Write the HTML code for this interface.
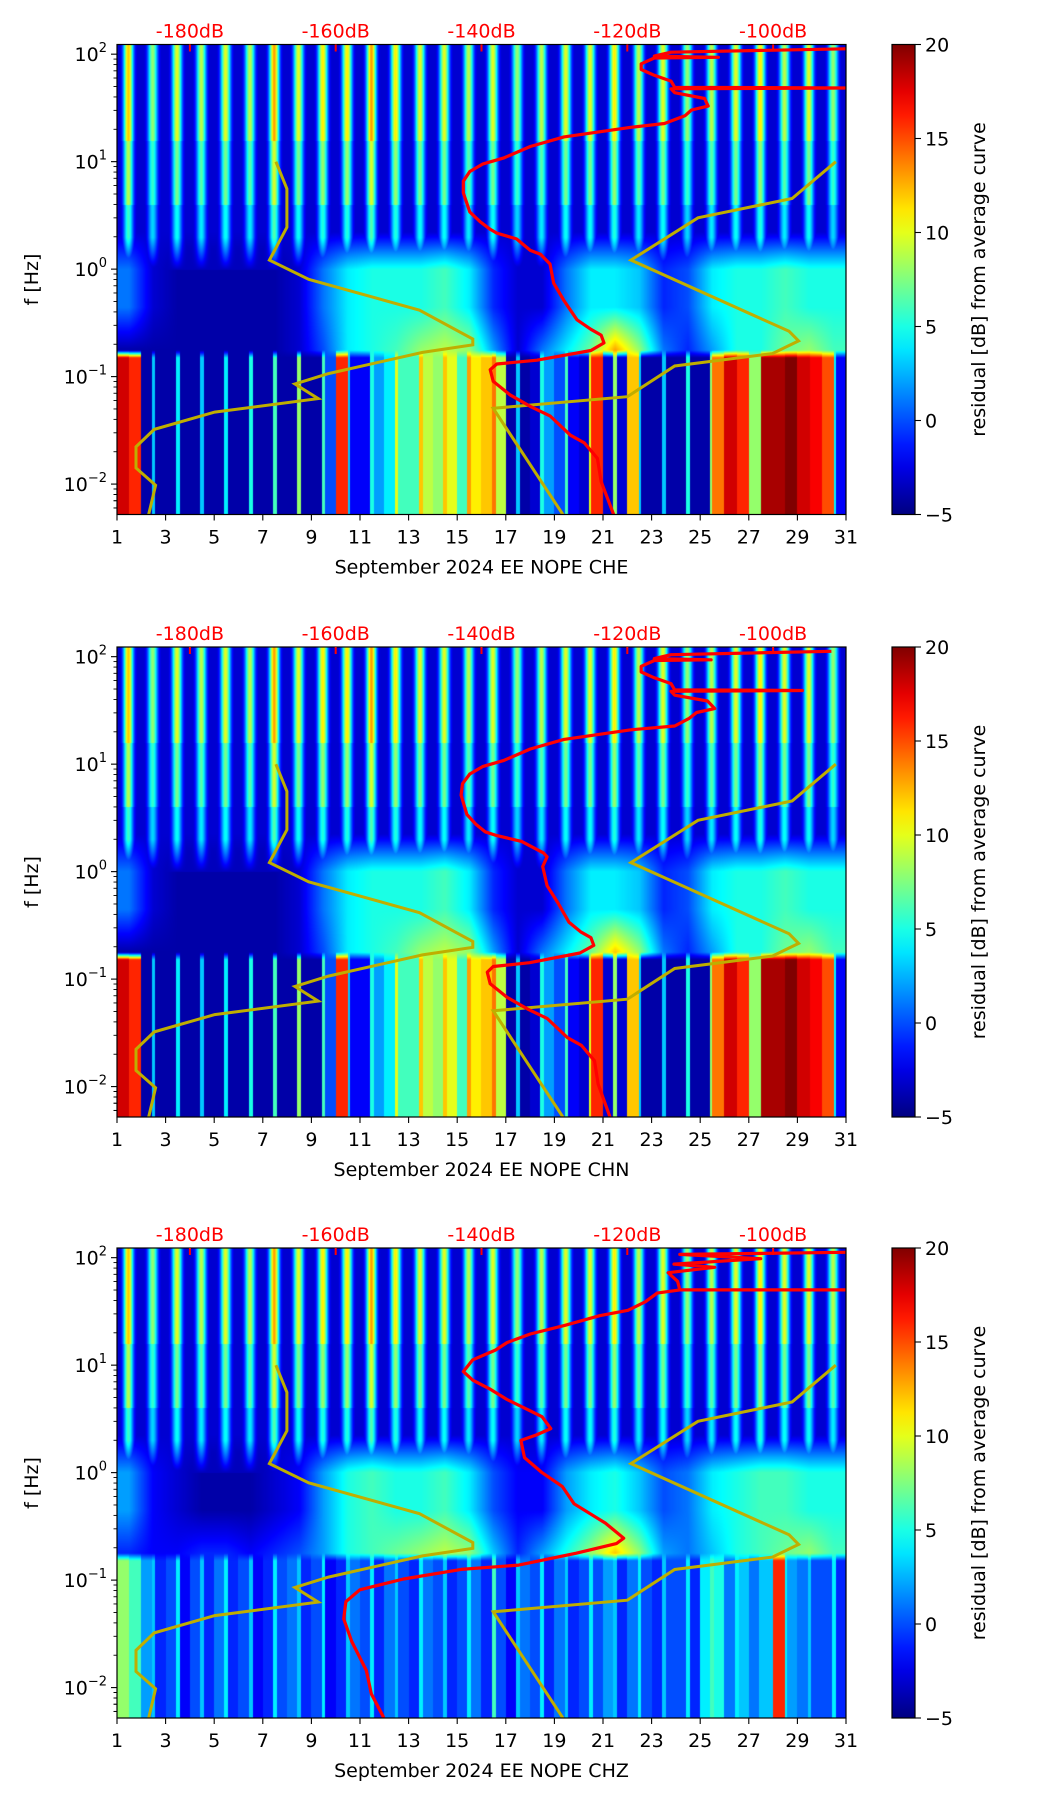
<!DOCTYPE html>
<html><head><meta charset="utf-8">
<style>
html,body{margin:0;padding:0;background:#fff;}
#fig{position:relative;width:1052px;height:1806px;overflow:hidden;background:#fff;font-family:"DejaVu Sans","Liberation Sans",sans-serif;}
canvas{position:absolute;}
svg{position:absolute;left:0;top:0;}
</style></head>
<body>
<div id="fig"></div>
<script>
// ---------- data ----------
const dayTicks = [1,3,5,7,9,11,13,15,17,19,21,23,25,27,29,31];
const dbTicks = [-180,-160,-140,-120,-100];
const freqDecades = [2,1,0,-1,-2];
const cbTicks = [20,15,10,5,0,-5];
const xLabels = ["September 2024 EE NOPE  CHE","September 2024 EE NOPE  CHN","September 2024 EE NOPE  CHZ"];

// daily stripe intensity in 2-120 Hz band
const hiDays1 = [12,8,10,9,10,9,13,10,11,11,13,11,10,10,9,10,8,9,10,10,11,9,10,8,9,10,11,9,10,8];
const hiDays2 = [12,8,10,9,10,9,13,10,11,11,13,11,10,10,9,10,8,9,10,10,11,9,10,8,9,10,11,10,10,8];
const hiDays3 = [12,8,10,9,10,9,13,10,11,11,13,11,10,10,9,10,8,9,10,10,11,9,10,8,9,10,11,10,10,9];
// microseism band 0.3-2 Hz
const midDays1 = [1,-3,-4,-4,-4,-4,-4,-3,1,4,5,5,5,6,4,-1,-3,-3,1,4,4,3,-1,0,4,5,5,6,5,5];
const midDays2 = [1,-3,-4,-4,-4,-4,-4,-3,1,4,5,5,5,6,4,-1,-3,-3,1,4,4,3,-1,0,4,5,5,6,5,5];
const midDays3 = [2,-2,-3,-4,-4,-4,-3,-2,2,5,6,5,5,6,4,0,-2,-2,2,4,5,3,0,1,4,5,6,6,5,5];
// 0.12-0.3 Hz band
const peakDays1 = [-4,-4,-4,-4,-4,-4,-4,-3,0,4,5,6,8,9,8,2,-3,1,4,7,13,8,1,-1,2,5,5,7,8,6];
const peakDays2 = [-4,-4,-4,-4,-4,-4,-4,-3,0,4,5,6,8,9,8,2,-3,1,4,7,12,8,1,-1,2,5,5,7,8,6];
const peakDays3 = [-1,-2,-2,-1,-1,-2,-1,0,2,5,6,7,8,9,8,3,-1,2,5,8,12,8,2,1,3,5,6,7,8,6];
// < 0.15 Hz band background, half-day resolution
const lowHalf1 = [18,16,-4,-4,-4,-4,-4,-4,-4,-4,-4,-4,-4,-4,-4,-4,-4,0,16,-2,-2,2,4,6,6,9,8,10,6,11,12,9,-4,-4,-3,2,0,-2,-3,16,-3,-3,12,-4,-4,-4,-4,-4,-4,14,18,16,8,19,19,20,18,17,15,-2];
const lowHalf2 = [18,16,-4,-4,-4,-4,-4,-4,-4,-4,-4,-4,-4,-4,-4,-4,-4,0,16,-2,-2,2,4,6,6,9,8,10,6,11,12,9,-4,-4,-3,2,0,-2,-3,16,-3,-3,12,-4,-4,-4,-4,-4,-4,14,18,16,8,19,19,20,18,17,15,-2];
const lowHalf3 = [8,6,2,-1,0,-2,0,-1,1,-1,0,-2,-1,0,1,-1,0,-2,-1,1,0,-1,1,0,-1,1,0,-1,0,1,-1,0,-2,1,0,-1,1,-1,0,0,2,-1,1,0,-1,0,0,-1,4,5,1,3,1,3,16,2,1,0,0,-1];
// narrow daily stripe in < 0.15 Hz band
const lowStripe1 = [4,3,4,3,4,5,6,8,6,3,5,10,12,12,13,14,3,5,6,10,8,3,3,5,8,6,4,8,6,4];
const lowStripe2 = [4,3,4,3,4,5,6,8,6,3,5,10,12,12,13,14,3,5,6,10,8,3,3,5,8,6,4,8,6,4];
const lowStripe3 = [6,3,4,3,4,3,4,3,4,3,4,3,4,3,4,6,3,4,3,4,3,4,3,4,6,4,3,4,3,4];

// yellow noise model curves (dB, log10 f)
const nlnmDb = [-168.2,-166.7,-166.7,-169.1,-163.7,-148.5,-141.2,-141.2,-148.1,-161.0,-165.6,-162.4,-176.6,-184.9,-187.4,-187.4,-184.7,-185.7];
const nlnmLogF = [1.0,0.747,0.389,0.084,-0.095,-0.382,-0.650,-0.704,-0.775,-0.972,-1.069,-1.205,-1.330,-1.491,-1.653,-1.850,-2.011,-2.297];
const nhnmDb = [-91.4,-97.4,-110.3,-119.5,-97.8,-96.5,-100.1,-113.5,-120.0,-138.4,-128.7];
const nhnmLogF = [1.0,0.657,0.478,0.084,-0.578,-0.668,-0.786,-0.901,-1.187,-1.295,-2.297];

// red median PSD curves (dB, log10 f)
const redDb1 = [-121.8,-123.6,-124.1,-125.9,-127.8,-130.6,-133.3,-136.1,-138.4,-138.8,-137.9,-132.4,-125.0,-123.2,-123.6,-125.0,-126.9,-128.7,-130.1,-130.6,-131.9,-133.3,-135.2,-137.9,-138.8,-140.2,-141.6,-142.5,-142.5,-141.6,-139.8,-137.0,-133.3,-128.7,-125.0,-119.5,-114.9,-112.1,-111.2,-108.9,-109.4,-113.5,-114.0,-90.0,-113.5,-114.0,-116.3,-118.1,-118.1,-116.3,-107.5,-116.3,-114.0,-90.0];
const redLogF1 = [-2.297,-1.975,-1.760,-1.617,-1.545,-1.366,-1.277,-1.169,-1.044,-0.936,-0.883,-0.847,-0.757,-0.686,-0.614,-0.560,-0.471,-0.292,-0.131,0.048,0.138,0.174,0.281,0.335,0.371,0.442,0.532,0.711,0.818,0.908,0.979,1.033,1.141,1.230,1.266,1.320,1.355,1.427,1.481,1.517,1.588,1.642,1.678,1.685,1.692,1.749,1.803,1.857,1.910,1.964,1.971,1.982,2.018,2.05];
const redDb2 = [-122.3,-124.0,-124.5,-126.3,-128.2,-131.0,-133.7,-136.5,-138.8,-139.2,-138.4,-133.4,-126.5,-124.6,-125.0,-126.4,-128.0,-129.5,-131.0,-131.6,-131.0,-131.5,-134.5,-137.9,-139.5,-140.8,-142.0,-142.8,-142.6,-141.6,-139.8,-137.0,-133.3,-128.7,-125.0,-119.5,-113.5,-111.5,-110.5,-108.0,-109.0,-113.5,-114.0,-96.0,-113.5,-114.0,-116.3,-118.1,-118.1,-116.3,-108.5,-116.3,-114.0,-92.0];
const redLogF2 = redLogF1.slice();
const redDb3 = [-153.4,-155.1,-155.8,-157.8,-158.9,-158.6,-156.7,-150.7,-142.8,-134.9,-127.0,-121.5,-120.5,-123.0,-127.3,-128.9,-131.7,-134.1,-134.6,-132.5,-130.5,-131.7,-134.1,-136.5,-138.9,-141.2,-142.5,-141.2,-138.1,-136.5,-133.3,-128.6,-123.8,-119.9,-117.5,-115.9,-112.8,-90.0,-112.8,-113.1,-114.4,-108.0,-113.6,-101.7,-112.8,-90.0];
const redLogF3 = [-2.28,-2.06,-1.84,-1.57,-1.36,-1.20,-1.09,-0.99,-0.90,-0.86,-0.75,-0.66,-0.61,-0.47,-0.29,-0.13,0.00,0.14,0.30,0.35,0.41,0.52,0.60,0.68,0.78,0.86,0.94,1.05,1.14,1.21,1.29,1.37,1.46,1.51,1.59,1.67,1.70,1.70,1.70,1.78,1.86,1.91,1.94,1.99,2.03,2.05];

// ---------- layout ----------
const PX0=117, PW=729, PH=470;
const panelTops=[44.5,647,1248];
const LOG_TOP=2.09, LOG_BOT=-2.283;
const DB0=-190, DB1=-90, VMIN=-5, VMAX=20;
const CBX=892, CBW=23;

const fig=document.getElementById('fig');
const NS='http://www.w3.org/2000/svg';
const svg=document.createElementNS(NS,'svg');
svg.setAttribute('width','1052');svg.setAttribute('height','1806');



function xDay(t){return PX0+(t-1)/30*PW;}
function xDb(d){return PX0+(d-DB0)/(DB1-DB0)*PW;}
function yLog(top,l){return top+(LOG_TOP-l)/(LOG_TOP-LOG_BOT)*PH;}
function clamp(v,a,b){return v<a?a:v>b?b:v;}
function jet(v){const x=clamp((v-VMIN)/(VMAX-VMIN),0,1);
  return [clamp(1.5-Math.abs(4*x-3),0,1)*255,clamp(1.5-Math.abs(4*x-2),0,1)*255,clamp(1.5-Math.abs(4*x-1),0,1)*255];}
function interpDay(arr,t){const p=clamp(t-1.5,0,29);const i=Math.floor(p);const j=Math.min(i+1,29);const f=p-i;return arr[i]*(1-f)+arr[j]*f;}

function el(tag,attrs,parent){const e=document.createElementNS(NS,tag);for(const k in attrs)e.setAttribute(k,attrs[k]);(parent||svg).appendChild(e);return e;}

const panels=[
 {hi:hiDays1,mid:midDays1,peak:peakDays1,low:lowHalf1,ls:lowStripe1,rdb:redDb1,rlf:redLogF1},
 {hi:hiDays2,mid:midDays2,peak:peakDays2,low:lowHalf2,ls:lowStripe2,rdb:redDb2,rlf:redLogF2},
 {hi:hiDays3,mid:midDays3,peak:peakDays3,low:lowHalf3,ls:lowStripe3,rdb:redDb3,rlf:redLogF3}];

function value(P,t,l){
  const d=clamp(Math.floor(t-1),0,29);const frac=t-Math.floor(t);
  const mid=interpDay(P.mid,t), peak=interpDay(P.peak,t);
  if(l>0){
    const g=Math.exp(-Math.pow((frac-0.47)/0.2,2));
    const f1=l>1.2?1:(l>0.6?0.8:(l>0.3?0.6:0.6*l/0.3));
    const stripe=-3.5+(P.hi[d]+3.5)*g*f1;
    let base=-3.0;
    if(l<0.35){const w=clamp((0.35-l)/0.35,0,1);base=-3.0*(1-w)+mid*w;}
    return Math.max(base,stripe);
  }
  if(l>-0.75){const w=clamp((l+0.75)/0.4,0,1);return peak*(1-w)+mid*w;}
  const hi=clamp(Math.floor((t-1)*2),0,59);let lv=P.low[hi];
  if(frac>0.42&&frac<0.58)lv=Math.max(lv,P.ls[d]);
  if(l>-0.82){const w=(l+0.82)/0.07;return lv*(1-w)+peak*w;}
  return lv;
}

panels.forEach((P,pi)=>{
  const top=panelTops[pi];
  const g=el('g',{});
  
  
  const cv=document.createElement('canvas');
  cv.width=PW;cv.height=PH;cv.style.left=PX0+'px';cv.style.top=top+'px';
  
  
  fig.appendChild(cv);
  const ctx=cv.getContext('2d');const img=ctx.createImageData(PW,PH);
  for(let y=0;y<PH;y++){const l=LOG_TOP-(y+0.5)/PH*(LOG_TOP-LOG_BOT);
    for(let x=0;x<PW;x++){const t=1+(x+0.5)/PW*30;const c=jet(value(P,t,l));const k=(y*PW+x)*4;
      img.data[k]=c[0];img.data[k+1]=c[1];img.data[k+2]=c[2];img.data[k+3]=255;}}
  ctx.putImageData(img,0,0);
  const cp=el('clipPath',{id:'clip'+pi},g);el('rect',{x:PX0,y:top,width:PW,height:PH},cp);
  [[nlnmDb,nlnmLogF,'low-noise-model-curve'],[nhnmDb,nhnmLogF,'high-noise-model-curve']].forEach(([D,L,nm])=>{
    const pts=D.map((d,i)=>xDb(d).toFixed(1)+','+yLog(top,L[i]).toFixed(1)).join(' ');
    const pl=el('polyline',{points:pts,fill:'none',stroke:'#bfae00','stroke-width':3,'clip-path':'url(#clip'+pi+')'},g);
    
    
  });
  const rp=P.rdb.map((d,i)=>xDb(d).toFixed(1)+','+yLog(top,P.rlf[i]).toFixed(1)).join(' ');
  const red=el('polyline',{points:rp,fill:'none',stroke:'#ff0000','stroke-width':3.2,'stroke-linejoin':'round','clip-path':'url(#clip'+pi+')'},g);
  
  
  el('rect',{x:PX0,y:top,width:PW,height:PH,fill:'none',stroke:'#000','stroke-width':1.2},g);
  dayTicks.forEach(dv=>{const x=xDay(dv);
    el('line',{x1:x,y1:top+PH,x2:x,y2:top+PH+6,stroke:'#000','stroke-width':1.1},g);
    const tx=el('text',{x:x,y:top+PH+29,'text-anchor':'middle','font-size':19},g);tx.textContent=dv;
    
    
  });
  const xl=el('text',{x:PX0+PW/2,y:top+PH+59,'text-anchor':'middle','font-size':19,'xml:space':'preserve'},g);xl.textContent=xLabels[pi];
  
  
  dbTicks.forEach(dv=>{const x=xDb(dv);
    el('line',{x1:x,y1:top,x2:x,y2:top+7,stroke:'#ff0000','stroke-width':2},g);
    const tx=el('text',{x:x,y:top-7,'text-anchor':'middle','font-size':19,fill:'#ff0000'},g);tx.textContent=dv+'dB';
    
    
  });
  freqDecades.forEach(e=>{const y=yLog(top,e);
    el('line',{x1:PX0-6,y1:y,x2:PX0,y2:y,stroke:'#000','stroke-width':1.1},g);
    const tx=el('text',{x:PX0-10,y:y+7,'text-anchor':'end','font-size':19},g);
    
    
    const s1=el('tspan',{},tx);s1.textContent='10';
    const s2=el('tspan',{dy:-9,'font-size':13},tx);s2.textContent=(e<0?'\u2212':'')+Math.abs(e);
    for(let m=2;m<=9;m++){const lm=e-1+Math.log10(m);if(lm<LOG_BOT||lm>LOG_TOP)continue;const ym=yLog(top,lm);
      el('line',{x1:PX0-3.5,y1:ym,x2:PX0,y2:ym,stroke:'#000','stroke-width':0.9},g);}
  });
  for(let m=2;m<=9;m++){const lm=2+Math.log10(m);if(lm>LOG_TOP)continue;const ym=yLog(top,lm);el('line',{x1:PX0-3.5,y1:ym,x2:PX0,y2:ym,stroke:'#000','stroke-width':0.9},g);}
  for(let m=5;m<=9;m++){const lm=-3+Math.log10(m);if(lm<LOG_BOT)continue;const ym=yLog(top,lm);el('line',{x1:PX0-3.5,y1:ym,x2:PX0,y2:ym,stroke:'#000','stroke-width':0.9},g);}
  const yl=el('text',{x:0,y:0,'text-anchor':'middle','font-size':19,transform:'translate(38,'+(top+PH/2)+') rotate(-90)'},g);yl.textContent='f [Hz]';
  
  
  const gr=el('linearGradient',{id:'cbg'+pi,x1:0,y1:1,x2:0,y2:0},g);
  for(let i=0;i<=20;i++){const c=jet(VMIN+i/20*(VMAX-VMIN));el('stop',{offset:i/20,'stop-color':'rgb('+c.map(Math.round).join(',')+')'},gr);}
  const cb=el('rect',{x:CBX,y:top,width:CBW,height:PH,fill:'url(#cbg'+pi+')',stroke:'#000','stroke-width':1.2},g);
  
  
  cbTicks.forEach(v=>{const y=top+(VMAX-v)/(VMAX-VMIN)*PH;
    el('line',{x1:CBX+CBW,y1:y,x2:CBX+CBW+6,y2:y,stroke:'#000','stroke-width':1.1},g);
    const tx=el('text',{x:CBX+CBW+10,y:y+7,'font-size':19},g);tx.textContent=(v<0?'\u2212':'')+Math.abs(v);
    
    
  });
  const cl=el('text',{x:0,y:0,'text-anchor':'middle','font-size':19,transform:'translate(985,'+(top+PH/2)+') rotate(-90)'},g);cl.textContent='residual [dB] from average curve';
  
  
});
fig.appendChild(svg);
</script>
</body></html>
